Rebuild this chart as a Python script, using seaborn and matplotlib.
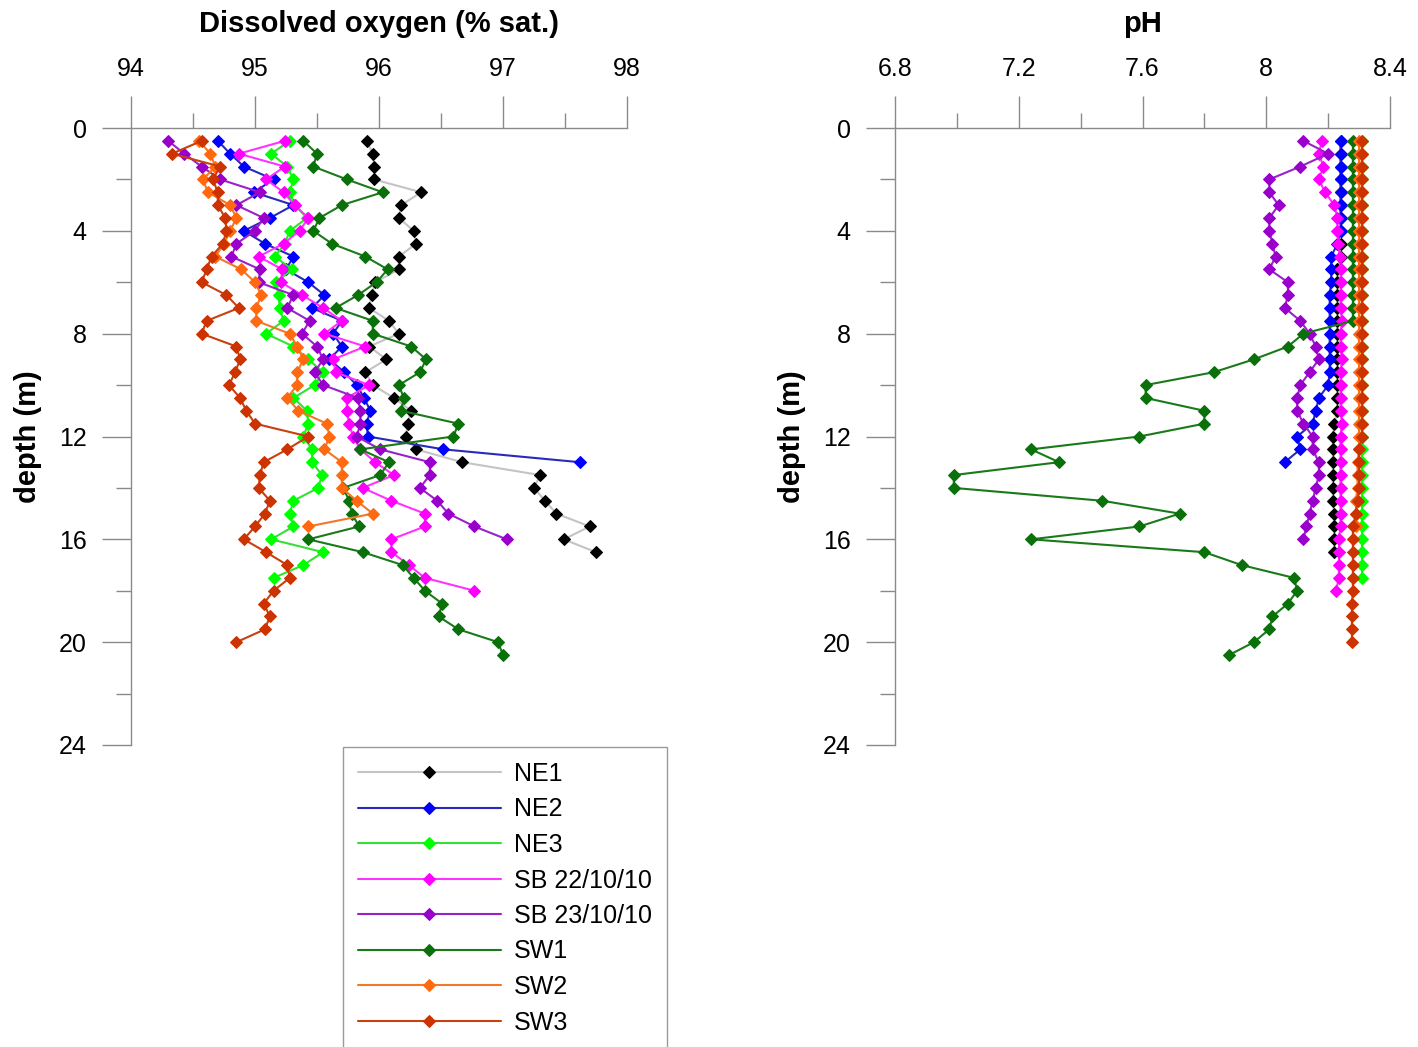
import numpy as np
import pandas as pd
import matplotlib
matplotlib.use("Agg")
import matplotlib.pyplot as plt
from matplotlib.ticker import MultipleLocator, FixedLocator
import seaborn as sns

sns.set_style("white")
plt.rcParams["font.family"] = ["Liberation Sans", "DejaVu Sans"]
plt.rcParams["text.color"] = "black"
plt.rcParams["axes.labelcolor"] = "black"
plt.rcParams["xtick.labelcolor"] = "black"
plt.rcParams["ytick.labelcolor"] = "black"

# ---- profile data: readings every 0.5 m starting at 0.5 m ----
sites = ["NE1", "NE2", "NE3", "SB 22/10/10", "SB 23/10/10", "SW1", "SW2", "SW3"]

do_ne1 = [95.90, 95.95, 95.96, 95.96, 96.34, 96.18, 96.16, 96.28, 96.30, 96.16, 96.16,
          95.97, 95.94, 95.92, 96.08, 96.16, 95.92, 96.06, 95.89, 95.95, 96.12, 96.26,
          96.23, 96.22, 96.30, 96.67, 97.30, 97.25, 97.34, 97.43, 97.70, 97.49, 97.75]
do_ne2 = [94.70, 94.80, 94.91, 95.15, 94.99, 95.31, 95.12, 94.91, 95.08, 95.31, 95.25,
          95.43, 95.56, 95.46, 95.70, 95.63, 95.70, 95.60, 95.72, 95.82, 95.88, 95.93,
          95.90, 95.91, 96.52, 97.62]
do_ne3 = [95.28, 95.13, 95.26, 95.31, 95.28, 95.32, 95.42, 95.28, 95.24, 95.16, 95.30,
          95.17, 95.19, 95.20, 95.23, 95.09, 95.31, 95.43, 95.55, 95.48, 95.31, 95.42,
          95.43, 95.39, 95.46, 95.46, 95.54, 95.51, 95.31, 95.28, 95.31, 95.13, 95.55,
          95.39, 95.15]
do_sb22 = [95.24, 94.87, 95.24, 95.09, 95.23, 95.32, 95.43, 95.36, 95.23, 95.03, 95.22,
           95.21, 95.38, 95.55, 95.70, 95.56, 95.89, 95.63, 95.65, 95.92, 95.74, 95.74,
           95.76, 95.79, 95.85, 95.97, 96.12, 95.87, 96.10, 96.37, 96.37, 96.10, 96.10,
           96.24, 96.37, 96.77]
do_sb23 = [94.30, 94.43, 94.57, 94.72, 95.04, 94.85, 95.07, 95.00, 94.85, 94.81, 95.04,
           95.03, 95.31, 95.26, 95.44, 95.38, 95.50, 95.55, 95.48, 95.55, 95.83, 95.85,
           95.85, 95.82, 96.01, 96.41, 96.41, 96.33, 96.47, 96.56, 96.77, 97.03]
do_sw1 = [95.39, 95.50, 95.47, 95.74, 96.03, 95.70, 95.52, 95.47, 95.62, 95.89, 96.07,
          95.98, 95.83, 95.65, 95.95, 95.95, 96.26, 96.38, 96.33, 96.16, 96.20, 96.18,
          96.64, 96.60, 95.85, 96.08, 96.01, 95.71, 95.76, 95.78, 95.84, 95.43, 95.87,
          96.19, 96.28, 96.37, 96.51, 96.48, 96.64, 96.96, 97.00]
do_sw2 = [94.55, 94.64, 94.68, 94.58, 94.62, 94.80, 94.85, 94.80, 94.75, 94.68, 94.89,
          95.00, 95.05, 95.01, 95.01, 95.28, 95.34, 95.39, 95.34, 95.34, 95.26, 95.35,
          95.58, 95.60, 95.56, 95.70, 95.70, 95.70, 95.82, 95.95, 95.43]
do_sw3 = [94.57, 94.33, 94.72, 94.66, 94.70, 94.70, 94.76, 94.77, 94.74, 94.65, 94.61,
          94.57, 94.77, 94.87, 94.61, 94.57, 94.85, 94.88, 94.84, 94.79, 94.88, 94.93,
          95.00, 95.43, 95.26, 95.07, 95.04, 95.03, 95.12, 95.08, 95.00, 94.91, 95.09,
          95.26, 95.28, 95.15, 95.07, 95.12, 95.08, 94.85]

ph_ne1 = [8.24, 8.24, 8.24, 8.24, 8.24, 8.24, 8.24, 8.24, 8.24, 8.24, 8.23,
          8.23, 8.23, 8.23, 8.23, 8.23, 8.23, 8.23, 8.23, 8.23, 8.23, 8.23,
          8.22, 8.215, 8.215, 8.215, 8.215, 8.215, 8.215, 8.22, 8.22, 8.22, 8.22]
ph_ne2 = [8.24, 8.24, 8.24, 8.24, 8.24, 8.24, 8.24, 8.24, 8.23, 8.21, 8.21,
          8.21, 8.205, 8.205, 8.205, 8.205, 8.205, 8.205, 8.205, 8.20, 8.17, 8.16,
          8.15, 8.10, 8.11, 8.06]
ph_ne3 = [8.31, 8.31, 8.31, 8.31, 8.31, 8.31, 8.31, 8.31, 8.31, 8.31, 8.31,
          8.31, 8.31, 8.31, 8.31, 8.31, 8.31, 8.31, 8.31, 8.31, 8.31, 8.31,
          8.31, 8.31, 8.31, 8.31, 8.31, 8.31, 8.31, 8.31, 8.31, 8.31, 8.31,
          8.31, 8.31]
ph_sb22 = [8.18, 8.17, 8.185, 8.17, 8.19, 8.22, 8.23, 8.23, 8.233, 8.237, 8.24,
           8.24, 8.24, 8.24, 8.245, 8.24, 8.24, 8.245, 8.24, 8.24, 8.24, 8.24,
           8.245, 8.24, 8.24, 8.24, 8.24, 8.24, 8.24, 8.24, 8.24, 8.235, 8.235,
           8.235, 8.235, 8.225]
ph_sb23 = [8.12, 8.20, 8.11, 8.01, 8.01, 8.04, 8.01, 8.01, 8.02, 8.03, 8.01,
           8.07, 8.07, 8.06, 8.11, 8.14, 8.16, 8.17, 8.14, 8.11, 8.10, 8.10,
           8.12, 8.15, 8.15, 8.17, 8.17, 8.16, 8.15, 8.14, 8.13, 8.12]
ph_sw1 = [8.28, 8.28, 8.28, 8.28, 8.28, 8.28, 8.28, 8.28, 8.28, 8.28, 8.28,
          8.28, 8.28, 8.28, 8.28, 8.12, 8.07, 7.96, 7.83, 7.61, 7.61, 7.80,
          7.80, 7.59, 7.24, 7.33, 6.99, 6.99, 7.47, 7.72, 7.59, 7.24, 7.80,
          7.92, 8.09, 8.10, 8.07, 8.02, 8.01, 7.96, 7.88]
ph_sw2 = [8.30, 8.30, 8.30, 8.30, 8.30, 8.30, 8.30, 8.30, 8.30, 8.30, 8.30,
          8.30, 8.30, 8.30, 8.30, 8.30, 8.30, 8.30, 8.30, 8.30, 8.30, 8.30,
          8.30, 8.30, 8.30, 8.295, 8.295, 8.295, 8.29, 8.29, 8.29]
ph_sw3 = [8.31, 8.31, 8.31, 8.31, 8.31, 8.31, 8.31, 8.31, 8.31, 8.31, 8.31,
          8.31, 8.31, 8.31, 8.31, 8.31, 8.31, 8.31, 8.31, 8.31, 8.31, 8.31,
          8.31, 8.31, 8.30, 8.30, 8.30, 8.30, 8.295, 8.29, 8.28, 8.28, 8.28,
          8.28, 8.28, 8.28, 8.277, 8.277, 8.277, 8.277]

do_values = [do_ne1, do_ne2, do_ne3, do_sb22, do_sb23, do_sw1, do_sw2, do_sw3]
ph_values = [ph_ne1, ph_ne2, ph_ne3, ph_sb22, ph_sb23, ph_sw1, ph_sw2, ph_sw3]

line_colors = ["#c4c4c4", "#2a2ab8", "#35e035", "#ff33ff", "#9a22c8", "#1a7a1a", "#f07828", "#c8400e"]
marker_colors = ["#000000", "#0000ff", "#00ff00", "#ff00ff", "#9900cc", "#0a700a", "#ff6a10", "#cc3300"]

rows = []
for site, dov, phv in zip(sites, do_values, ph_values):
    for i in range(len(dov)):
        rows.append({"site": site, "depth": 0.5 * (i + 1), "DO": dov[i], "pH": phv[i]})
df = pd.DataFrame(rows)

W, H = 1418, 1047
fig = plt.figure(figsize=(W / 100, H / 100), dpi=100)
ax1 = fig.add_axes([131 / W, 1 - 745 / H, 496 / W, 617 / H])
ax2 = fig.add_axes([895 / W, 1 - 745 / H, 495 / W, 617 / H])

spine_col = "#8a8a8a"

def draw_panel(ax, var):
    for site, lc, mc in zip(sites, line_colors, marker_colors):
        sub = df[df["site"] == site]
        sns.lineplot(data=sub, x=var, y="depth", ax=ax, sort=False, estimator=None,
                     color=lc, linewidth=1.5, marker="D", markersize=6.5,
                     markerfacecolor=mc, markeredgecolor=mc, label=site, legend=False)
    ax.set_ylim(24, 0)
    ax.xaxis.set_ticks_position("top")
    ax.xaxis.set_label_position("top")
    for s in ["bottom", "right"]:
        ax.spines[s].set_visible(False)
    for s in ["top", "left"]:
        ax.spines[s].set_color(spine_col)
        ax.spines[s].set_linewidth(1.0)
    ax.yaxis.set_major_locator(MultipleLocator(4))
    ax.yaxis.set_minor_locator(MultipleLocator(2))
    ax.tick_params(axis="x", which="major", direction="out", length=23, width=1.0,
                   color=spine_col, pad=11, labelsize=18, top=True, bottom=False)
    ax.tick_params(axis="x", which="minor", direction="out", length=11, width=1.0,
                   color=spine_col, top=True, bottom=False)
    ax.tick_params(axis="y", which="major", direction="out", length=21, width=1.0,
                   color=spine_col, pad=11, labelsize=18, left=True)
    ax.tick_params(axis="y", which="minor", direction="out", length=11, width=1.0,
                   color=spine_col, left=True)
    ax.set_ylabel("depth (m)", fontsize=21, fontweight="bold", labelpad=12)
    ax.grid(False)

draw_panel(ax1, "DO")
ax1.set_xlim(94, 98)
ax1.xaxis.set_major_locator(MultipleLocator(1))
ax1.xaxis.set_minor_locator(MultipleLocator(0.5))
ax1.set_xlabel("Dissolved oxygen (% sat.)", fontsize=21, fontweight="bold", labelpad=18)

draw_panel(ax2, "pH")
ax2.set_xlim(6.8, 8.4)
ax2.xaxis.set_major_locator(FixedLocator([6.8, 7.2, 7.6, 8.0, 8.4]))
ax2.xaxis.set_minor_locator(FixedLocator([7.0, 7.4, 7.8, 8.2]))
ax2.set_xticklabels(["6.8", "7.2", "7.6", "8", "8.4"])
ax2.set_xlabel("pH", fontsize=21, fontweight="bold", labelpad=18)

handles, labels = ax1.get_legend_handles_labels()
leg = fig.legend(handles, labels, loc="upper left",
                 bbox_to_anchor=(343 / W, 1 - 747 / H), borderaxespad=0,
                 fontsize=18, handlelength=5.7, labelspacing=0.46, handletextpad=0.55,
                 borderpad=0.6, fancybox=False, framealpha=1, edgecolor="#9a9a9a")
leg.get_frame().set_linewidth(1.0)

fig.savefig("out.png", dpi=100, facecolor="white")
